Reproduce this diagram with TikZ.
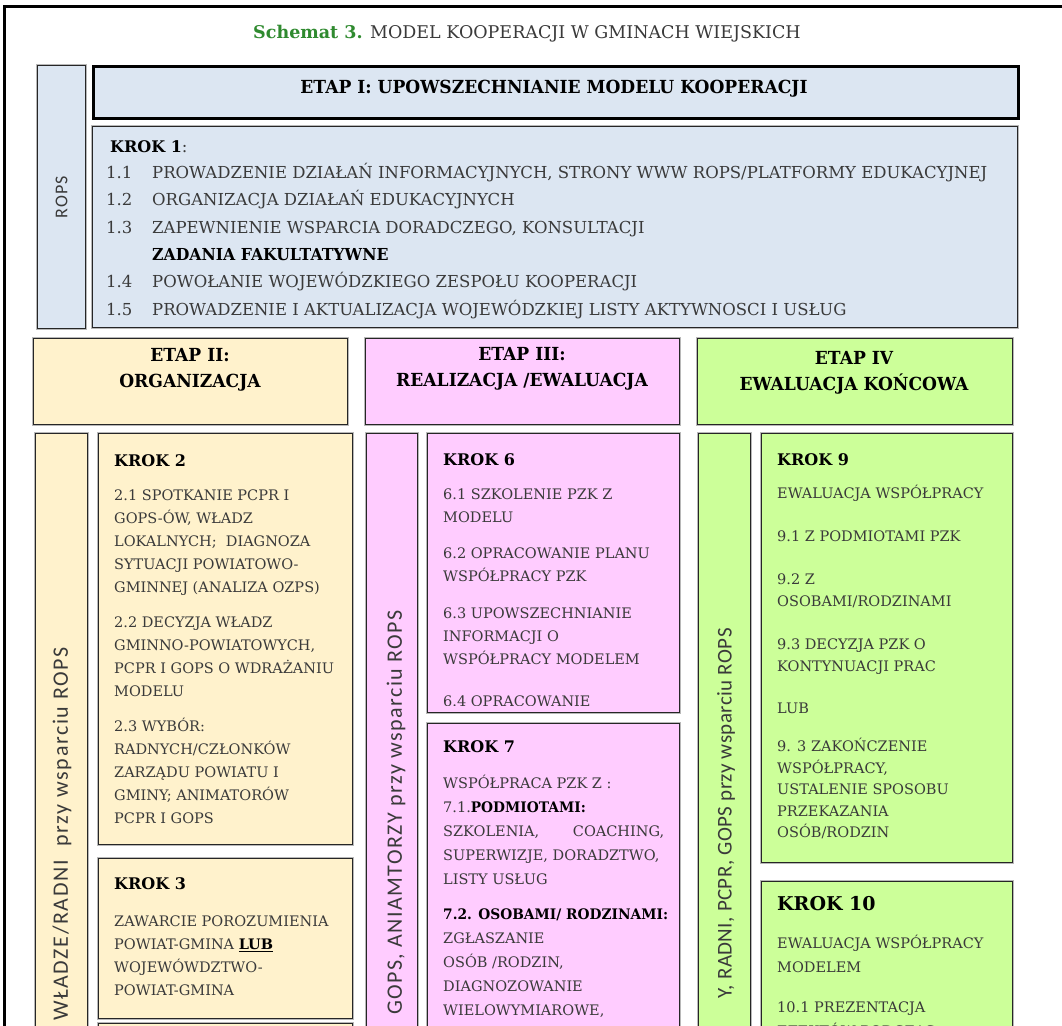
\documentclass[tikz,border=0pt]{standalone}
\usepackage{fontspec}
\setmainfont{DejaVu Serif}
\newfontfamily\condbold{DejaVu Serif}[FakeStretch=0.95]
\newfontfamily\sidef{Carlito}[LetterSpace=6]
\definecolor{blu}{HTML}{DCE6F2}
\definecolor{ylw}{HTML}{FFF2CC}
\definecolor{pnk}{HTML}{FFCCFF}
\definecolor{grn}{HTML}{CCFF99}
\definecolor{ttlgreen}{HTML}{2F8A2F}
\definecolor{ink}{HTML}{3A3A3A}
\tikzset{
  box/.style={draw=black!85, line width=1.1pt,
    preaction={draw=black!28, line width=3.2pt},
    anchor=north west, inner sep=0pt},
  body/.style={anchor=north west, inner sep=0pt, align=left, text=ink,
    font=\fontsize{14.5}{23}\selectfont},
  side/.style={rotate=90, anchor=east, inner sep=0pt, text=ink,
    font=\sidef\fontsize{22}{22}\selectfont},
  etaptxt/.style={inner sep=0pt, align=center, text=black,
    font=\condbold\bfseries\fontsize{18}{26}\selectfont}
}
\newcommand{\krokhd}[1]{{\bfseries\color{black}\fontsize{16}{23}\selectfont #1}}
\newcommand{\cb}[1]{{\condbold\bfseries\color{black}#1}}
\begin{document}
\begin{tikzpicture}[x=1pt,y=-1pt]
\clip (0,0) rectangle (1062,1025);
\fill[white] (0,0) rectangle (1062,1025);
% outer frame
\draw[line width=3pt] (4,1060) -- (4,7) -- (1090,7);

% title
\node[anchor=base, inner sep=0pt, font=\fontsize{17.5}{20}\selectfont, text=ink] (title) at (527,38)
  {{\color{ttlgreen}\bfseries Schemat 3.} MODEL KOOPERACJI W GMINACH WIEJSKICH};

% stage I
\node[box, fill=blu, minimum width=48, minimum height=263] (rops) at (37,65) {};
\node[rotate=90, inner sep=0pt, text=ink, font=\sidef\fontsize{18}{18}\selectfont] (ropslbl) at (rops.center) {ROPS};
\node[box, fill=blu, draw=black, line width=2.8pt, minimum width=925, minimum height=52] (etap1) at (92,65) {};
\node[etaptxt] (etap1t) at (554,89) {ETAP I: UPOWSZECHNIANIE MODELU KOOPERACJI};
\node[box, fill=blu, minimum width=925, minimum height=201] (k1) at (92,126) {};
\node[body, font=\fontsize{16.5}{27.4}\selectfont] (k1t) at (106,140.3) {%
  \hspace*{4pt}\krokhd{KROK 1}:\\[-1.4pt]
  \makebox[46pt][l]{1.1}PROWADZENIE DZIAŁAŃ INFORMACYJNYCH, STRONY WWW ROPS/PLATFORMY EDUKACYJNEJ\\
  \makebox[46pt][l]{1.2}ORGANIZACJA DZIAŁAŃ EDUKACYJNYCH\\
  \makebox[46pt][l]{1.3}ZAPEWNIENIE WSPARCIA DORADCZEGO, KONSULTACJI\\
  \hspace*{46pt}\cb{ZADANIA FAKULTATYWNE}\\
  \makebox[46pt][l]{1.4}POWOŁANIE WOJEWÓDZKIEGO ZESPOŁU KOOPERACJI\\
  \makebox[46pt][l]{1.5}PROWADZENIE I AKTUALIZACJA WOJEWÓDZKIEJ LISTY AKTYWNOSCI I USŁUG};

% stage headers
\node[box, fill=ylw, minimum width=314, minimum height=86] (etap2) at (33,338) {};
\node[etaptxt] (etap2t) at (190,370) {ETAP II:\\ORGANIZACJA};
\node[box, fill=pnk, minimum width=314, minimum height=86] (etap3) at (365,338) {};
\node[etaptxt] (etap3t) at (522,369) {ETAP III:\\REALIZACJA /EWALUACJA};
\node[box, fill=grn, minimum width=315, minimum height=86] (etap4) at (697,338) {};
\node[etaptxt] (etap4t) at (854,372.5) {ETAP IV\\EWALUACJA KOŃCOWA};

% column II
\node[box, fill=ylw, minimum width=52, minimum height=640] (s2) at (35,433) {};
\node[side, font=\sidef\fontsize{22}{22}\selectfont\addfontfeature{LetterSpace=7.5}] (s2t) at (62,647) {WŁADZE/RADNI\ \ przy wsparciu ROPS};
\node[box, fill=ylw, minimum width=254, minimum height=411] (k2) at (98,433) {};
\node[body] (k2t) at (114,454.3) {%
  \krokhd{KROK 2}\\[11pt]
  2.1 SPOTKANIE PCPR I\\
  GOPS-ÓW, WŁADZ\\
  LOKALNYCH;\ \ DIAGNOZA\\
  SYTUACJI POWIATOWO-\\
  GMINNEJ (ANALIZA OZPS)\\[12pt]
  2.2 DECYZJA WŁADZ\\
  GMINNO-POWIATOWYCH,\\
  PCPR I GOPS O WDRAŻANIU\\
  MODELU\\[12pt]
  2.3 WYBÓR:\\
  RADNYCH/CZŁONKÓW\\
  ZARZĄDU POWIATU I\\
  GMINY; ANIMATORÓW\\
  PCPR I GOPS};
\node[box, fill=ylw, minimum width=254, minimum height=160] (k3) at (98,858) {};
\node[body] (k3t) at (114,877.3) {%
  \krokhd{KROK 3}\\[14pt]
  ZAWARCIE POROZUMIENIA\\
  POWIAT-GMINA {\bfseries\color{black}\underline{LUB}}\\
  WOJEWÓWDZTWO-\\
  POWIAT-GMINA};
\node[box, fill=ylw, minimum width=254, minimum height=60] (k4) at (98,1023) {};

% column III
\node[box, fill=pnk, minimum width=51, minimum height=640] (s3) at (366,433) {};
\node[side, font=\sidef\fontsize{22}{22}\selectfont\addfontfeature{LetterSpace=6.5}] (s3t) at (396,610) {GOPS, ANIAMTORZY przy wsparciu ROPS};
\node[box, fill=pnk, minimum width=252, minimum height=279] (k6) at (427,433) {};
\begin{scope}
  \clip (428,434) rectangle (678,705);
  \node[body] (k6t) at (443,453.3) {%
    \krokhd{KROK 6}\\[11pt]
    6.1 SZKOLENIE PZK Z\\
    MODELU\\[13pt]
    6.2 OPRACOWANIE PLANU\\
    WSPÓŁPRACY PZK\\[14pt]
    6.3 UPOWSZECHNIANIE\\
    INFORMACJI O\\
    WSPÓŁPRACY MODELEM\\[19pt]
    6.4 OPRACOWANIE};
\end{scope}
\node[box, fill=pnk, minimum width=252, minimum height=330] (k7) at (427,723) {};
\node[body, font=\fontsize{14.5}{24}\selectfont] (k7t) at (443,740.3) {%
  \krokhd{KROK 7}\\[12pt]
  WSPÓŁPRACA PZK Z :\\
  7.1.\cb{PODMIOTAMI:}\\
  \makebox[221pt][l]{SZKOLENIA,\hfill COACHING,}\\
  SUPERWIZJE, DORADZTWO,\\
  LISTY USŁUG\\[11pt]
  \cb{7.2. OSOBAMI/ RODZINAMI:}\\
  ZGŁASZANIE\\
  OSÓB /RODZIN,\\
  DIAGNOZOWANIE\\
  WIELOWYMIAROWE,};

% column IV
\node[box, fill=grn, minimum width=52, minimum height=640] (s4) at (698,433) {};
\node[side, font=\sidef\fontsize{21}{21}\selectfont\addfontfeature{LetterSpace=2}] (s4t) at (726,628) {Y, RADNI, PCPR, GOPS przy wsparciu ROPS};
\node[box, fill=grn, minimum width=251, minimum height=429] (k9) at (761,433) {};
\node[body, font=\fontsize{14.5}{21.5}\selectfont] (k9t) at (777,453.3) {%
  \krokhd{KROK 9}\\[11.5pt]
  EWALUACJA WSPÓŁPRACY\\[22pt]
  9.1 Z PODMIOTAMI PZK\\[21.5pt]
  9.2 Z\\
  OSOBAMI/RODZINAMI\\[22pt]
  9.3 DECYZJA PZK O\\
  KONTYNUACJI PRAC\\[21pt]
  LUB\\[16.5pt]
  9. 3 ZAKOŃCZENIE\\
  WSPÓŁPRACY,\\
  USTALENIE SPOSOBU\\
  PRZEKAZANIA\\
  OSÓB/RODZIN};
\node[box, fill=grn, minimum width=251, minimum height=170] (k10) at (761,881) {};
\node[body, font=\fontsize{14.5}{24}\selectfont] (k10t) at (777,896) {%
  {\bfseries\color{black}\fontsize{19}{24}\selectfont KROK 10}\\[14pt]
  EWALUACJA WSPÓŁPRACY\\
  MODELEM\\[16pt]
  10.1 PREZENTACJA\\
  EFEKTÓW PODCZAS};
\end{tikzpicture}
\end{document}
